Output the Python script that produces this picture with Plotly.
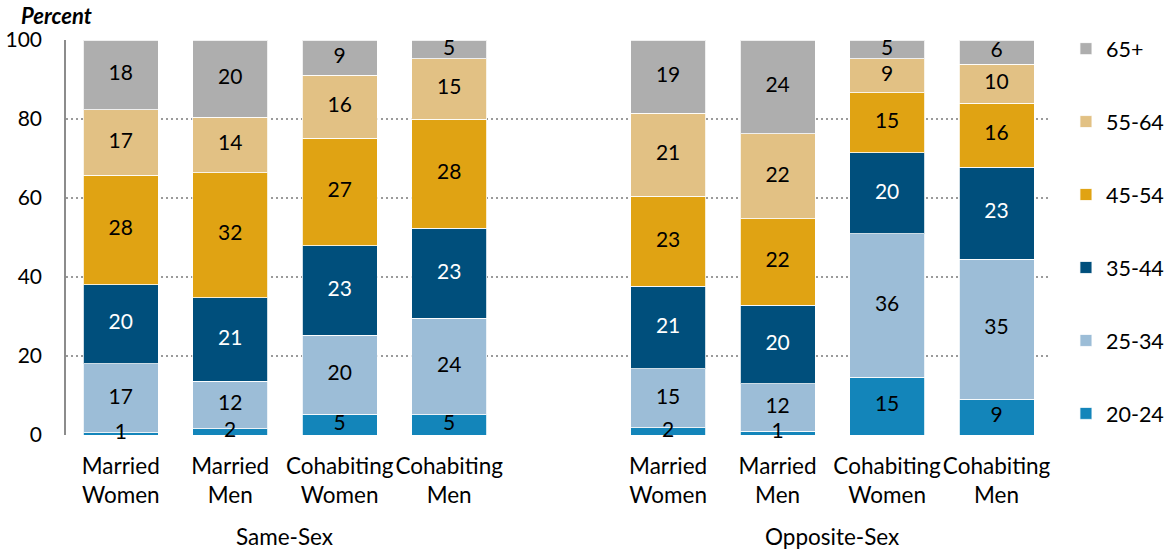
import plotly.graph_objects as go

# ---- data ----
categories = ["Married<br>Women", "Married<br>Men", "Cohabiting<br>Women", "Cohabiting<br>Men",
              "Married<br>Women", "Married<br>Men", "Cohabiting<br>Women", "Cohabiting<br>Men"]
groups = ["Same-Sex", "Opposite-Sex"]
x_pos = [0, 1, 2, 3, 5, 6, 7, 8]
group_centers = [1.5, 6.5]
age_groups = ["20-24", "25-34", "35-44", "45-54", "55-64", "65+"]
v_20_24 = [0.6, 1.6, 5.3, 5.1, 1.8, 0.9, 14.6, 9.1]
v_25_34 = [17.4, 12.0, 20.0, 24.4, 15.0, 12.1, 36.4, 35.4]
v_35_44 = [20.1, 21.2, 22.6, 22.8, 20.8, 19.8, 20.4, 23.3]
v_45_54 = [27.6, 31.6, 27.2, 27.6, 22.8, 21.9, 15.2, 16.2]
v_55_64 = [16.7, 14.0, 16.0, 15.3, 21.0, 21.6, 8.7, 9.9]
v_65 = [17.6, 19.6, 8.9, 4.8, 18.6, 23.7, 4.7, 6.1]
series = [v_20_24, v_25_34, v_35_44, v_45_54, v_55_64, v_65]
y_ticks = [0, 20, 40, 60, 80, 100]

colors = ["#1385BA", "#9CBDD7", "#004F7C", "#E0A313", "#E2C184", "#AEAEAE"]
text_colors = ["black", "black", "white", "black", "black", "black"]
FONT = "Lato"

fig = go.Figure()
n_series = len(series)
for i, (name, vals, c) in enumerate(zip(age_groups, series, colors)):
    fig.add_trace(go.Bar(
        x=x_pos, y=vals, name=name, legendgroup=name, legendrank=n_series - i,
        marker=dict(color=c, line=dict(color="rgba(255,255,255,0.8)", width=1)),
        width=0.685, hoverinfo="skip",
    ))

# segment labels (drawn on top of all bars)
base = [0.0] * len(x_pos)
for vals, tc in zip(series, text_colors):
    mids = [b + v / 2 for b, v in zip(base, vals)]
    fig.add_trace(go.Scatter(
        x=x_pos, y=mids, mode="text", text=[f"{v:.0f}" for v in vals],
        textfont=dict(family=FONT, size=21, color=tc), textposition="middle center",
        showlegend=False, hoverinfo="skip", cliponaxis=False,
    ))
    base = [b + v for b, v in zip(base, vals)]

for g, xc in zip(groups, group_centers):
    fig.add_annotation(x=xc, xref="x", y=-0.256, yref="paper", text=g, showarrow=False,
                       font=dict(family=FONT, size=22.5, color="black"), yanchor="middle")

fig.add_annotation(x=0, xref="paper", xanchor="left", xshift=-47, y=1.062, yref="paper",
                   yanchor="middle", text="<b><i>Percent</i></b>", showarrow=False,
                   font=dict(family=FONT, size=22, color="black"))

fig.update_layout(
    width=1171, height=550,
    barmode="stack",
    plot_bgcolor="white", paper_bgcolor="white",
    margin=dict(l=66, r=123, t=40, b=115),
    font=dict(family=FONT, size=20, color="black"),
    legend=dict(traceorder="grouped", tracegroupgap=42, xref="container", x=0.9103,
                xanchor="left", y=1.03, yanchor="top", maxheight=2000,
                font=dict(family=FONT, size=21.5), itemwidth=30),
    xaxis=dict(tickmode="array", tickvals=x_pos, ticktext=categories, range=[-0.5, 8.47],
               showgrid=False, zeroline=False, showline=False, ticks="", tickangle=0,
               ticklabelstandoff=15, automargin=False,
               tickfont=dict(family=FONT, size=22.5)),
    yaxis=dict(range=[0, 100], tickvals=y_ticks, showgrid=True, gridcolor="#9A9A9A",
               griddash="2px,3px", gridwidth=1.5, zeroline=False, showline=True,
               linecolor="#8C8C8C", linewidth=1.5, ticks="", ticklabelstandoff=18,
               automargin=False, tickfont=dict(family=FONT, size=21)),
)

fig.write_html("out.html", config={"displayModeBar": False},
               post_script="document.body.style.margin='0';")
